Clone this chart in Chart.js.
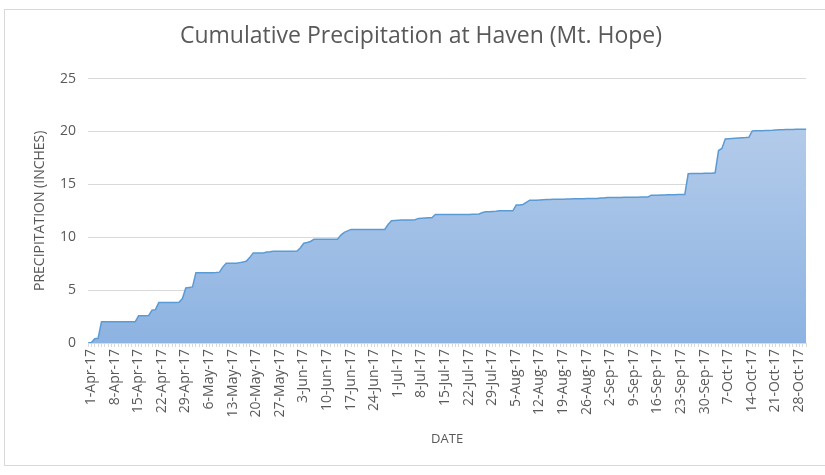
<!DOCTYPE html>
<html>
<head>
<meta charset="utf-8">
<script src="https://cdn.jsdelivr.net/npm/chart.js@4"></script>
<style>
  html, body { margin: 0; padding: 0; background: #fff; }
  #wrap { width: 825px; height: 475px; position: relative; }
</style>
</head>
<body>
<div id="wrap"><canvas id="precipChart" width="825" height="475"></canvas></div>
<script>
// daily dates, 1-Apr-17 .. 31-Oct-17
const startDate = new Date(2017, 3, 1);
const dayCount = 214;
const monthNames = ['Jan', 'Feb', 'Mar', 'Apr', 'May', 'Jun', 'Jul', 'Aug', 'Sep', 'Oct', 'Nov', 'Dec'];
const dates = [];
for (let i = 0; i < dayCount; i++) {
    const d = new Date(startDate.getFullYear(), startDate.getMonth(), startDate.getDate() + i);
    dates.push(d.getDate() + '-' + monthNames[d.getMonth()] + '-17');
}

// cumulative precipitation (inches), one value per day
const precip = [
    0, 0.05, 0.4, 0.45, 2.0, 2.0, 2.0,
    2.0, 2.0, 2.0, 2.0, 2.0, 2.0, 2.0,
    2.0, 2.57, 2.57, 2.57, 2.6, 3.1, 3.15,
    3.82, 3.82, 3.82, 3.82, 3.82, 3.82, 3.85,
    4.2, 5.2, 5.25, 5.3, 6.64, 6.64, 6.64,
    6.64, 6.64, 6.64, 6.66, 6.7, 7.2, 7.55,
    7.55, 7.55, 7.55, 7.6, 7.65, 7.75, 8.1,
    8.52, 8.52, 8.52, 8.52, 8.6, 8.62, 8.68,
    8.68, 8.68, 8.68, 8.68, 8.68, 8.68, 8.7,
    9.0, 9.43, 9.5, 9.6, 9.8, 9.8, 9.8,
    9.8, 9.8, 9.8, 9.82, 9.82, 10.2, 10.46,
    10.6, 10.74, 10.74, 10.74, 10.74, 10.74, 10.74,
    10.74, 10.74, 10.74, 10.74, 10.74, 11.2, 11.56,
    11.58, 11.6, 11.62, 11.62, 11.62, 11.64, 11.65,
    11.78, 11.8, 11.82, 11.84, 11.85, 12.15, 12.15,
    12.15, 12.15, 12.15, 12.15, 12.15, 12.15, 12.15,
    12.15, 12.15, 12.17, 12.18, 12.2, 12.34, 12.4,
    12.42, 12.44, 12.46, 12.5, 12.5, 12.5, 12.5,
    12.5, 13.04, 13.05, 13.1, 13.3, 13.5, 13.5,
    13.5, 13.52, 13.54, 13.56, 13.58, 13.6, 13.6,
    13.6, 13.6, 13.62, 13.62, 13.64, 13.64, 13.64,
    13.65, 13.66, 13.66, 13.66, 13.66, 13.7, 13.72,
    13.75, 13.75, 13.76, 13.76, 13.76, 13.77, 13.78,
    13.78, 13.78, 13.79, 13.8, 13.8, 13.8, 13.97,
    13.98, 13.98, 14.0, 14.0, 14.02, 14.02, 14.02,
    14.03, 14.04, 14.05, 16.0, 16.02, 16.02, 16.03,
    16.03, 16.04, 16.04, 16.05, 16.1, 18.2, 18.4,
    19.3, 19.32, 19.34, 19.36, 19.38, 19.4, 19.42,
    19.45, 20.05, 20.06, 20.07, 20.08, 20.1, 20.1,
    20.12, 20.15, 20.16, 20.17, 20.18, 20.18, 20.19,
    20.2, 20.2, 20.2, 20.2
];

const yTicks = [0, 5, 10, 15, 20, 25];

const textGray = '#595959';
const gridGray = '#d9d9d9';

// light frame round the whole chart, like the spreadsheet chart box
const framePlugin = {
    id: 'frame',
    beforeDraw(chart) {
        const ctx = chart.ctx;
        ctx.save();
        ctx.strokeStyle = gridGray;
        ctx.lineWidth = 1;
        ctx.strokeRect(4.5, 9.5, 840, 456);
        ctx.restore();
    }
};

function areaGradient(context) {
    const area = context.chart.chartArea;
    if (!area) return 'rgba(157,190,230,1)';
    const g = context.chart.ctx.createLinearGradient(0, area.top + 50, 0, area.bottom);
    g.addColorStop(0, '#b3cbea');
    g.addColorStop(1, '#8db3e2');
    return g;
}

const ctx = document.getElementById('precipChart').getContext('2d');
new Chart(ctx, {
    type: 'line',
    data: {
        labels: dates,
        datasets: [{
            data: precip,
            borderColor: '#5b9bd5',
            borderWidth: 1.5,
            backgroundColor: areaGradient,
            fill: 'origin',
            pointRadius: 0,
            tension: 0
        }]
    },
    plugins: [framePlugin],
    options: {
        responsive: false,
        animation: false,
        layout: { padding: { left: 24, right: 7, top: 0, bottom: 0 } },
        plugins: {
            legend: { display: false },
            tooltip: { enabled: false },
            title: {
                display: true,
                text: 'Cumulative Precipitation at Haven (Mt. Hope)',
                color: textGray,
                font: { family: 'Open Sans', size: 23, weight: 'normal' },
                padding: { top: 23, bottom: 28 }
            }
        },
        scales: {
            x: {
                offset: false,
                grid: {
                    drawOnChartArea: false,
                    drawTicks: true,
                    tickLength: 4,
                    color: gridGray
                },
                border: { color: gridGray },
                ticks: {
                    autoSkip: false,
                    maxRotation: 90,
                    minRotation: 90,
                    color: textGray,
                    padding: 2,
                    labelOffset: 3,
                    font: { family: 'Open Sans', size: 14 },
                    callback: (v, i) => (i % 7 === 0 ? dates[i] : '')
                },
                title: {
                    display: true,
                    text: 'DATE',
                    color: textGray,
                    font: { family: 'Open Sans', size: 13 },
                    padding: { top: 0, bottom: 28 }
                },
                afterFit: (scale) => { scale.height = 475 - 343; }
            },
            y: {
                min: 0,
                max: 25,
                afterBuildTicks: (scale) => { scale.ticks = yTicks.map(v => ({ value: v })); },
                grid: { color: gridGray, drawTicks: false },
                border: { display: false },
                ticks: {
                    color: textGray,
                    padding: 12,
                    font: { family: 'Open Sans', size: 14 }
                },
                title: {
                    display: true,
                    text: 'PRECIPITATION (INCHES)',
                    color: textGray,
                    font: { family: 'Open Sans', size: 14 },
                    padding: { top: 8, bottom: 0 }
                },
                afterFit: (scale) => { scale.width = 64; }
            }
        }
    }
});
</script>
</body>
</html>
